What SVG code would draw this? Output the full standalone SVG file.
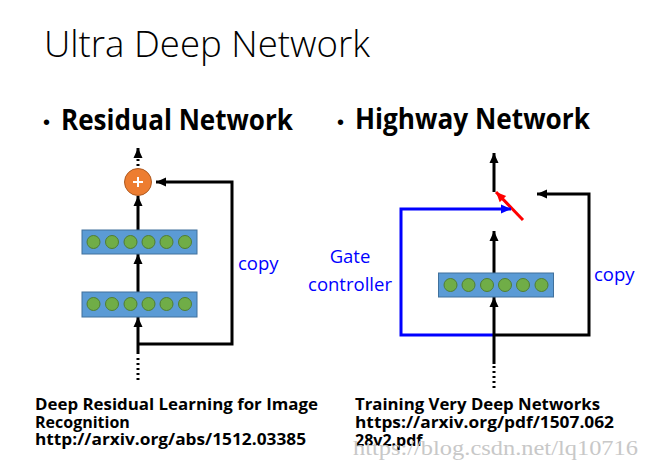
<svg xmlns="http://www.w3.org/2000/svg" width="652" height="472" viewBox="0 0 652 472">
<style>
.title{font-family:"Open Sans","Noto Sans","Liberation Sans",sans-serif;font-weight:300;font-size:36px;fill:#000}
.head{font-family:"Open Sans","Noto Sans","Liberation Sans",sans-serif;font-weight:700;font-size:28px;fill:#000}
.bullet{font-family:"Liberation Sans",sans-serif;font-size:20px;fill:#000}
.lbl{font-family:"Open Sans","Noto Sans","Liberation Sans",sans-serif;font-size:18.5px;fill:#0000ff}
.ref{font-family:"Open Sans","Noto Sans","Liberation Sans",sans-serif;font-weight:700;font-size:16px;fill:#000}
.wm{font-family:"Liberation Serif","DejaVu Serif",serif;font-size:20px;fill:#c8c8c8}
.box{fill:#5b9bd5;stroke:#41719c;stroke-width:1}
.neuron{fill:#70ad47;stroke:#507e32;stroke-width:1}
.k{stroke:#000;stroke-width:3;fill:none}
.dot{stroke:#000;stroke-width:3;fill:none;stroke-dasharray:2 3}
.b{stroke:#0000ff;stroke-width:3;fill:none}
.r{stroke:#ff0000;stroke-width:3;fill:none}
</style>
<defs>
<marker id="ak" markerUnits="userSpaceOnUse" markerWidth="12" markerHeight="12" viewBox="0 0 12 12" refX="11" refY="6" orient="auto"><path d="M1,1.5 L11,6 L1,10.5 Z" fill="#000"/></marker>
<marker id="ab" markerUnits="userSpaceOnUse" markerWidth="12" markerHeight="12" viewBox="0 0 12 12" refX="11" refY="6" orient="auto"><path d="M1,1.5 L11,6 L1,10.5 Z" fill="#0000ff"/></marker>
<marker id="ar" markerUnits="userSpaceOnUse" markerWidth="12" markerHeight="12" viewBox="0 0 12 12" refX="11" refY="6" orient="auto"><path d="M1,1.5 L11,6 L1,10.5 Z" fill="#ff0000"/></marker>
</defs>
<rect width="652" height="472" fill="#fff"/>

<text class="title" x="44" y="57" textLength="326" lengthAdjust="spacingAndGlyphs">Ultra Deep Network</text>
<text class="bullet" x="43" y="129">•</text>
<text class="head" x="61" y="130" textLength="232" lengthAdjust="spacingAndGlyphs">Residual Network</text>
<text class="bullet" x="337" y="129">•</text>
<text class="head" x="355" y="129" textLength="235" lengthAdjust="spacingAndGlyphs">Highway Network</text>

<g id="connectors">
<line class="dot" x1="138" y1="166" x2="138" y2="158"/>
<line class="k" x1="138" y1="158" x2="138" y2="148" marker-end="url(#ak)"/>
<line class="k" x1="138" y1="230" x2="138" y2="196" marker-end="url(#ak)"/>
<line class="k" x1="138" y1="292" x2="138" y2="254" marker-end="url(#ak)"/>
<line class="k" x1="138" y1="354" x2="138" y2="317" marker-end="url(#ak)"/>
<line class="dot" x1="138" y1="358" x2="138" y2="380"/>
<polyline class="k" points="138,344 232,344 232,182 156,182" marker-end="url(#ak)"/>
<line class="k" x1="494" y1="192" x2="494" y2="153" marker-end="url(#ak)"/>
<line class="r" x1="523" y1="220" x2="496" y2="192" marker-end="url(#ar)"/>
<polyline class="k" points="494,335 589,335 589,194 537,194" marker-end="url(#ak)"/>
<polyline class="b" points="494,335 401,335 401,209 511,209" marker-end="url(#ab)"/>
<line class="k" x1="494" y1="273" x2="494" y2="231" marker-end="url(#ak)"/>
<line class="k" x1="494" y1="364" x2="494" y2="297" marker-end="url(#ak)"/>
<line class="dot" x1="494" y1="366" x2="494" y2="388"/>
</g>

<g id="sum">
<circle cx="138" cy="182" r="13.5" fill="#ed7d31" stroke="#ae5a21" stroke-width="1"/>
<path d="M133,182 H143 M138,177 V187" stroke="#fff" stroke-width="2"/>
</g>

<g id="res-layer2">
<rect class="box" x="82" y="230" width="115" height="24"/>
<circle class="neuron" cx="93.5" cy="242" r="6.5"/>
<circle class="neuron" cx="112" cy="242" r="6.5"/>
<circle class="neuron" cx="130.5" cy="242" r="6.5"/>
<circle class="neuron" cx="148.5" cy="242" r="6.5"/>
<circle class="neuron" cx="166.5" cy="242" r="6.5"/>
<circle class="neuron" cx="185" cy="242" r="6.5"/>
</g>

<g id="res-layer1">
<rect class="box" x="82" y="292" width="115" height="25"/>
<circle class="neuron" cx="93.5" cy="304" r="6.5"/>
<circle class="neuron" cx="112" cy="304" r="6.5"/>
<circle class="neuron" cx="130.5" cy="304" r="6.5"/>
<circle class="neuron" cx="148.5" cy="304" r="6.5"/>
<circle class="neuron" cx="166.5" cy="304" r="6.5"/>
<circle class="neuron" cx="185" cy="304" r="6.5"/>
</g>

<g id="hw-layer">
<rect class="box" x="438.5" y="273" width="115" height="24"/>
<circle class="neuron" cx="450.5" cy="285" r="6.5"/>
<circle class="neuron" cx="468.5" cy="285" r="6.5"/>
<circle class="neuron" cx="487" cy="285" r="6.5"/>
<circle class="neuron" cx="505" cy="285" r="6.5"/>
<circle class="neuron" cx="523" cy="285" r="6.5"/>
<circle class="neuron" cx="541.5" cy="285" r="6.5"/>
</g>

<g id="labels">
<text class="lbl" x="238" y="270">copy</text>
<text class="lbl" x="594" y="281">copy</text>
<text class="lbl" x="350" y="263" text-anchor="middle">Gate</text>
<text class="lbl" x="350" y="291" text-anchor="middle">controller</text>
</g>

<g id="refs">
<text class="ref" x="35" y="410" textLength="283" lengthAdjust="spacingAndGlyphs">Deep Residual Learning for Image</text>
<text class="ref" x="35" y="427.5">Recognition</text>
<text class="ref" x="35" y="445" textLength="271" lengthAdjust="spacingAndGlyphs">http://arxiv.org/abs/1512.03385</text>
<text class="ref" x="355" y="410" textLength="245" lengthAdjust="spacingAndGlyphs">Training Very Deep Networks</text>
<text class="ref" x="355" y="428" textLength="259" lengthAdjust="spacingAndGlyphs">https://arxiv.org/pdf/1507.062</text>
<text class="ref" x="355" y="446">28v2.pdf</text>
</g>

<text class="wm" x="353" y="455" textLength="285" lengthAdjust="spacingAndGlyphs">https://blog.csdn.net/lq10716</text>
</svg>
